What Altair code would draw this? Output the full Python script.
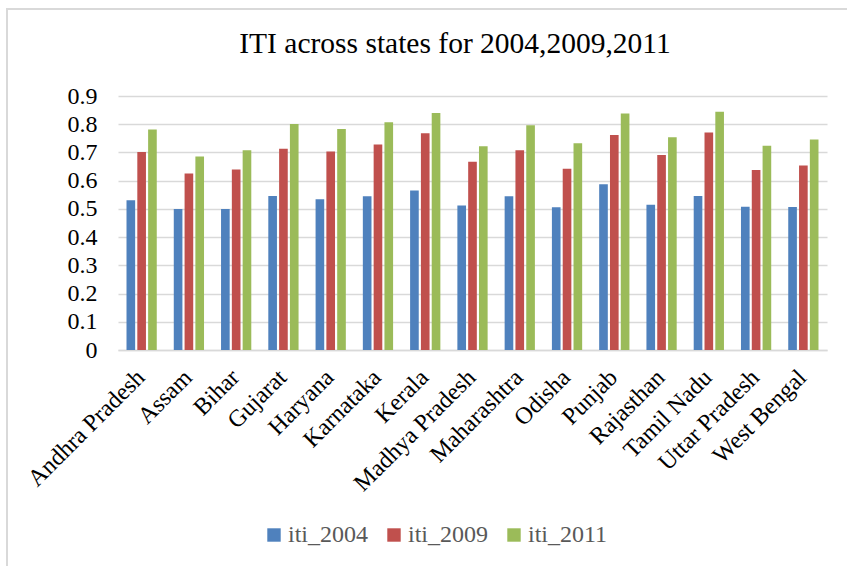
import altair as alt
import pandas as pd

# ITI values by state for the three survey years
states = [
    "Andhra Pradesh", "Assam", "Bihar", "Gujarat", "Haryana", "Karnataka",
    "Kerala", "Madhya Pradesh", "Maharashtra", "Odisha", "Punjab",
    "Rajasthan", "Tamil Nadu", "Uttar Pradesh", "West Bengal",
]
iti_2004 = [0.531, 0.500, 0.500, 0.546, 0.534, 0.545, 0.565, 0.512,
            0.545, 0.506, 0.587, 0.515, 0.546, 0.508, 0.507]
iti_2009 = [0.702, 0.625, 0.640, 0.713, 0.703, 0.728, 0.768, 0.667,
            0.708, 0.642, 0.762, 0.691, 0.771, 0.638, 0.654]
iti_2011 = [0.781, 0.686, 0.708, 0.801, 0.783, 0.807, 0.840, 0.722,
            0.796, 0.733, 0.838, 0.754, 0.844, 0.724, 0.746]

series_names = ["iti_2004", "iti_2009", "iti_2011"]
series_colors = ["#4F81BD", "#C0504D", "#9BBB59"]
y_ticks = [0, 0.1, 0.2, 0.3, 0.4, 0.5, 0.6, 0.7, 0.8, 0.9]
title_text = "ITI across states for 2004,2009,2011"

rows = []
for name, values in zip(series_names, [iti_2004, iti_2009, iti_2011]):
    for state, v in zip(states, values):
        rows.append({"state": state, "series": name, "value": v})
df = pd.DataFrame(rows)

SERIF = "Liberation Serif"
W, H = 709, 254

bars = alt.Chart(df).mark_bar().encode(
    x=alt.X(
        "state:N",
        sort=states,
        scale=alt.Scale(paddingInner=0.36, paddingOuter=0.18),
        axis=alt.Axis(
            title=None,
            labelAngle=-45,
            labelFont=SERIF,
            labelFontSize=24,
            labelColor="#000000",
            labelPadding=15,
            labelOffset=-9,
            ticks=False,
            domain=True,
            domainColor="#d9d9d9",
            domainWidth=1.5,
            grid=False,
            labelOverlap=False,
        ),
    ),
    xOffset=alt.XOffset(
        "series:N",
        sort=series_names,
        scale=alt.Scale(paddingInner=0.2, paddingOuter=0),
    ),
    y=alt.Y(
        "value:Q",
        scale=alt.Scale(domain=[0, 0.9], nice=False),
        axis=alt.Axis(
            title=None,
            values=y_ticks,
            labelExpr="datum.value == 0 ? '0' : format(datum.value, '.1f')",
            labelFont=SERIF,
            labelFontSize=24,
            labelColor="#000000",
            labelPadding=21,
            ticks=False,
            domain=False,
            grid=True,
            gridColor="#d9d9d9",
            gridWidth=1.5,
        ),
    ),
    color=alt.Color(
        "series:N",
        sort=series_names,
        scale=alt.Scale(domain=series_names, range=series_colors),
        legend=alt.Legend(
            title=None,
            orient="none",
            direction="horizontal",
            legendX=144,
            legendY=427,
            symbolType="square",
            symbolSize=180,
            symbolStrokeWidth=0,
            labelFont=SERIF,
            labelFontSize=24,
            labelColor="#595959",
            labelOffset=2,
            columnPadding=13,
            padding=0,
        ),
    ),
)

one = pd.DataFrame({"t": [title_text]})

title = alt.Chart(one).mark_text(
    font=SERIF, fontSize=29.5, color="#000000", baseline="alphabetic", align="center"
).encode(text="t:N", x=alt.value(337), y=alt.value(-43))

# light frame around the whole chart area
frame = alt.Chart(one).mark_rect(
    filled=False, stroke="#d9d9d9", strokeWidth=2
).encode(x=alt.value(-111), x2=alt.value(760), y=alt.value(-87), y2=alt.value(500))

chart = alt.layer(frame, bars, title).properties(
    width=W,
    height=H,
    autosize=alt.AutoSizeParams(type="none"),
    padding={"left": 118, "top": 96, "right": 20, "bottom": 216},
    background="#ffffff",
).configure_view(stroke=None)

chart.save("out.html", embed_options={"renderer": "svg", "actions": False})
